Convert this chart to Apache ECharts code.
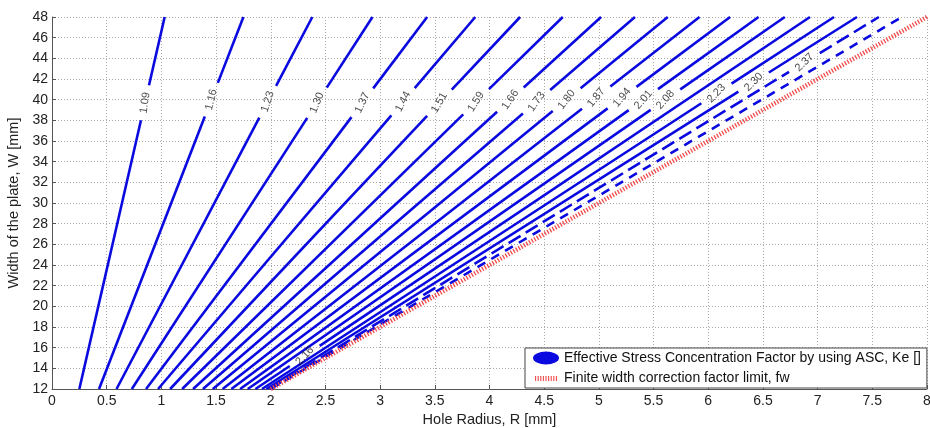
<!DOCTYPE html>
<html><head><meta charset="utf-8">
<script src="https://cdn.jsdelivr.net/npm/echarts@6/dist/echarts.min.js"></script>
<style>html,body{margin:0;padding:0;background:#fff}#c{width:930px;height:428px}</style>
</head><body><div id="c"></div>
<script>
// Contour levels of Ke and where each line crosses W=12 and W=48 (R in mm)
const levels = [1.09,1.16,1.23,1.30,1.37,1.44,1.51,1.59,1.66,1.73,1.80,1.87,1.94,2.01,2.08,2.16,2.23,2.30,2.37,2.44];
const rAtW12 = [0.25,0.43,0.59,0.73,0.86,0.97,1.08,1.19,1.29,1.38,1.47,1.56,1.64,1.72,1.79,1.86,1.92,1.96,1.99,2.00];
const rAtW48 = [1.03,1.75,2.38,2.93,3.43,3.87,4.28,4.67,5.02,5.33,5.63,5.92,6.20,6.46,6.70,6.93,7.15,7.36,7.56,7.77];
// W at which each inline label sits (null = no label)
const labelW = [39.7,40.0,39.8,39.7,39.7,39.8,39.7,39.8,40.0,39.8,40.0,40.2,40.2,40.0,40.0,15.2,40.6,41.7,43.6,null];
const dashedLevels = [2.37,2.44];
// Finite width correction factor limit (W = 6R)
const fwR = [2, 8];
const fwW = [12, 48];
const xTicks = [0,0.5,1,1.5,2,2.5,3,3.5,4,4.5,5,5.5,6,6.5,7,7.5,8];
const yTicks = [12,14,16,18,20,22,24,26,28,30,32,34,36,38,40,42,44,46,48];

const nameKe = 'Effective Stress Concentration Factor by using ASC, Ke []';
const nameFw = 'Finite width correction factor limit, fw';
const FONT = '"Liberation Sans", Arial, sans-serif';
const BLUE = '#0a0ae0';
const RED = '#f24a4a';

const chart = echarts.init(document.getElementById('c'), null, {renderer:'canvas'});
const base = {
  animation:false,
  backgroundColor:'#fff',
  grid:{left:52,right:3,top:17,bottom:39,containLabel:false,outerBoundsMode:'none'},
  xAxis:{type:'value',min:xTicks[0],max:xTicks[xTicks.length-1],interval:0.5,
    name:'Hole Radius, R [mm]',nameLocation:'middle',nameGap:21,
    nameTextStyle:{fontFamily:FONT,fontSize:14.5,color:'#222'},
    axisLine:{show:true,onZero:false,lineStyle:{color:'#555',width:1}},
    axisTick:{show:true,inside:true,length:4,lineStyle:{color:'#555'}},
    axisLabel:{fontFamily:FONT,fontSize:14,color:'#222',margin:5,showMaxLabel:true,showMinLabel:true},
    splitLine:{show:true,lineStyle:{color:'#a9a9a9',type:[1,2],width:1}}},
  yAxis:{type:'value',min:yTicks[0],max:yTicks[yTicks.length-1],interval:2,
    name:'Width of the plate, W [mm]',nameLocation:'middle',nameGap:21,
    nameTextStyle:{fontFamily:FONT,fontSize:14.5,color:'#222'},
    axisLine:{show:true,onZero:false,lineStyle:{color:'#555',width:1}},
    axisTick:{show:true,inside:true,length:4,lineStyle:{color:'#555'}},
    axisLabel:{fontFamily:FONT,fontSize:14,color:'#222',margin:4,showMaxLabel:true,showMinLabel:true},
    splitLine:{show:true,lineStyle:{color:'#a9a9a9',type:[1,2],width:1}}},
  series:[]
};
chart.setOption(base);

function rAt(i, w){ return rAtW12[i] + (rAtW48[i]-rAtW12[i])*(w-12)/36; }
function px(r,w){ return chart.convertToPixel({gridIndex:0},[r,w]); }

const series = [];
const labelData = [];
const HALF_GAP = 18;
levels.forEach((lv,i)=>{
  const dashed = dashedLevels.indexOf(lv) >= 0;
  const ls = {color:BLUE,width:2.6,type: dashed ? (lv===2.44?[9,7]:[14,6]) : 'solid', cap:'butt'};
  const segs = [];
  const lw = labelW[i];
  if (lw != null) {
    const a = px(rAt(i,lw-1),lw-1), b = px(rAt(i,lw+1),lw+1);
    const len = Math.hypot(b[0]-a[0], b[1]-a[1]) / 2;
    const dW = HALF_GAP/len;
    segs.push([12, lw-dW]); segs.push([lw+dW, 48]);
    // MATLAB-style label angle (steeper than the line on screen)
    const ang = Math.atan2((a[1]-b[1])*1.6, b[0]-a[0]) * 180/Math.PI;
    labelData.push({value:[rAt(i,lw), lw], label:{rotate:ang, formatter:lv.toFixed(2)}});
  } else {
    segs.push([12,48]);
  }
  segs.forEach(s=>{
    series.push({type:'line', name:nameKe, silent:true, symbol:'none', clip:true,
      lineStyle:ls, itemStyle:{color:BLUE}, z:3,
      data:[[rAt(i,s[0]),s[0]],[rAt(i,s[1]),s[1]]]});
  });
});
series.push({type:'line', name:nameFw, silent:true, symbol:'none', z:4, clip:true,
  lineStyle:{color:RED,width:4.5,type:[1.3,1.7],cap:'butt'}, itemStyle:{color:RED},
  data: fwR.map((r,k)=>[r,fwW[k]])});
series.push({type:'scatter', silent:true, symbol:'circle', symbolSize:1, z:5,
  itemStyle:{color:'rgba(0,0,0,0)'},
  label:{show:true, position:'inside', fontFamily:FONT, fontSize:11, color:'#1a1a1a'},
  data:labelData});

let hatch = 'path://M0,0h0.05v0.05h-0.05zM0,14h0.05v-0.05h-0.05z';
for (let k=0;k<9;k++){ hatch += 'M'+(k*2.6)+',5h1.1v5h-1.1z'; }
const ellipse = 'path://M0,7a13,6.5 0 1,0 26,0a13,6.5 0 1,0 -26,0z';

chart.setOption({
  legend:{show:true, orient:'vertical', left:525, top:348, right:null,
    backgroundColor:'#fff', borderColor:'#444', borderWidth:1, borderRadius:0,
    padding:[3,6,3,8], itemGap:6, itemWidth:26, itemHeight:14, selectedMode:false,
    textStyle:{fontFamily:FONT,fontSize:14,color:'#111'},
    data:[{name:nameKe, icon:ellipse, itemStyle:{color:BLUE}},{name:nameFw, icon:hatch, itemStyle:{color:RED}}]},
  series:series
});
</script></body></html>
